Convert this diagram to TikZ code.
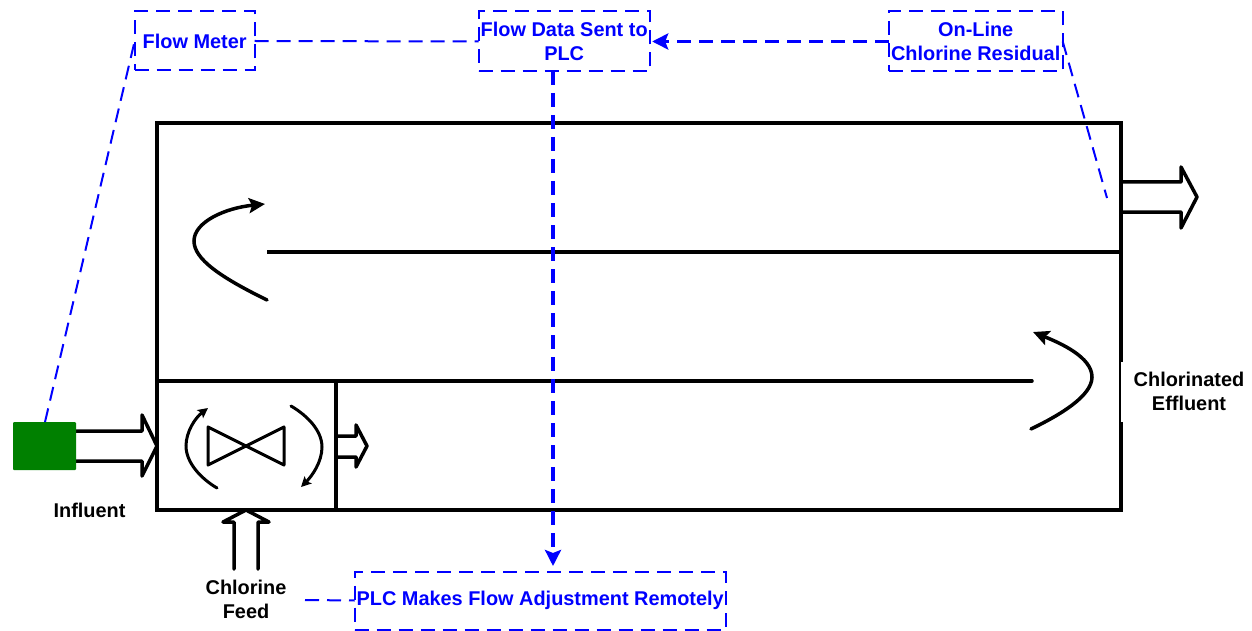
\documentclass[tikz,border=0pt]{standalone}
\usepackage{fontspec}
\setmainfont{Liberation Sans}
\usetikzlibrary{arrows.meta}
\definecolor{dkgreen}{RGB}{0,128,0}
\tikzset{
  wall/.style={draw=black,line width=3.5pt,line join=miter,outer sep=0pt},
  flowline/.style={draw=black,line width=3.5pt,line cap=round},
  swirl/.style={draw=black,line width=3.5pt,line cap=round,-{Stealth[inset=3pt,length=16pt,width=15pt]}},
  swirlsmall/.style={draw=black,line width=3pt,line cap=round,-{Stealth[inset=2pt,length=10pt,width=10pt]}},
  block/.style={draw=black,line width=3.5pt,fill=white,line join=round,line cap=round},
  bluebox/.style={draw=blue,line width=2pt,dash pattern=on 14pt off 8pt,text=blue,font=\fontsize{19.9}{24}\selectfont\bfseries,align=center,inner sep=0pt,outer sep=0pt,anchor=north west},
  thindash/.style={draw=blue,line width=2pt,dash pattern=on 14pt off 8pt},
  thickdash/.style={draw=blue,line width=3.5pt,dash pattern=on 14pt off 8pt},
  bluetip/.style={-{Stealth[inset=3pt,length=16pt,width=16pt]}},
  lab/.style={text=black,font=\fontsize{19.9}{24}\selectfont\bfseries,align=center,inner sep=0pt,outer sep=0pt}
}
\begin{document}
\begin{tikzpicture}[x=1pt,y=-1pt]
\useasboundingbox (0,0) rectangle (1252,631);
% block arrows
\draw[block] (76,431) -- (142,431) -- (142,415) -- (157,446) -- (142,476) -- (142,461) -- (76,461);
\draw[block] (337,436) -- (356,436) -- (356,425) -- (367,446) -- (356,467) -- (356,457) -- (337,457);
\draw[block] (234,569) -- (234,522) -- (223,522) -- (246,510) -- (269,522) -- (258,522) -- (258,569);
\draw[block] (1121,182) -- (1181,182) -- (1181,167) -- (1197,197) -- (1181,228) -- (1181,212) -- (1121,212);
% tank
\node[wall,minimum width=964pt,minimum height=387pt,inner sep=0pt,anchor=north west] (tank) at (157,123) {};
\node[wall,minimum width=179pt,minimum height=129pt,inner sep=0pt,anchor=north west] (mix) at (157,381) {};
\coordinate (w1end) at (1032,381);
\coordinate (w2start) at (267,252);
\draw[flowline] (mix.north east) -- (w1end);
\draw[flowline,line cap=butt] (w2start) -- (tank.east |- w2start);
% swirls
\coordinate (a1) at (267,300); \coordinate (a2) at (265,204);
\draw[swirl] (a1) .. controls (220,277) and (194,259) .. (194,241) .. controls (194,222) and (225,208) .. (a2);
\coordinate (b1) at (1031,429); \coordinate (b2) at (1033,332);
\draw[swirl] (b1) .. controls (1060,415) and (1092,396) .. (1092,377) .. controls (1092,357) and (1060,343) .. (b2);
\coordinate (c1) at (217,488); \coordinate (c2) at (208,408);
\draw[swirlsmall] (c1) .. controls (200,478) and (186,462) .. (186,446) .. controls (186,432) and (195,418) .. (c2);
\coordinate (d1) at (291,406); \coordinate (d2) at (301,487);
\draw[swirlsmall] (d1) .. controls (308,416) and (322,431) .. (322,447) .. controls (322,462) and (312,476) .. (d2);
% valve
\node[inner sep=0pt,minimum size=0pt] (valve) at (246,446) {};
\draw[draw=black,line width=3pt,line join=round] (valve.center) -- (208,427) -- (208,465) -- (284,427) -- (284,465) -- cycle;
% green meter
\node[fill=dkgreen,draw=none,rounded corners=1pt,minimum width=63pt,minimum height=48pt,inner sep=0pt,outer sep=0pt,anchor=north west] (meter) at (13,422) {};
% labels
\node[lab] (influent) at (89.5,510) {Influent};
\node[lab] (chlorine) at (246,599) {Chlorine\\Feed};
\node[lab,fill=white,minimum width=136pt,minimum height=60pt,anchor=west] (effluent) at (1121,391.5) {Chlorinated\\Effluent};
\draw[draw=black,line width=1pt] (1120.5,362) -- (1120.5,422);
% blue boxes
\node[bluebox,minimum width=120pt,minimum height=59pt] (fm) at (134.7,11.5) {Flow Meter};
\node[bluebox,minimum width=171pt,minimum height=60pt] (fd) at (478.7,11.5) {Flow Data Sent to\\PLC};
\node[bluebox,minimum width=174pt,minimum height=60pt] (ol) at (888.7,11.5) {On-Line\\Chlorine Residual};
\node[bluebox,minimum width=371pt,minimum height=58pt] (plc) at (354.7,571.5) {PLC Makes Flow Adjustment Remotely};
% connectors
\coordinate (olend) at (1107,198);
\coordinate (clfree) at (305,600);
\coordinate (fdbottom) at (553,71);
\coordinate (plctop) at (553,566);
\draw[thindash] (meter.north -| 45,0) -- (fm.west);
\draw[thindash] (fm.east) -- (fd.west);
\draw[thindash] (ol.east) -- (olend);
\draw[thindash] (clfree) -- (plc.west);
\draw[thickdash,bluetip,shorten >=2.5pt] (ol.west) -- (fd.east);
\draw[thickdash,bluetip] (fdbottom) -- (plctop);
\end{tikzpicture}
\end{document}
